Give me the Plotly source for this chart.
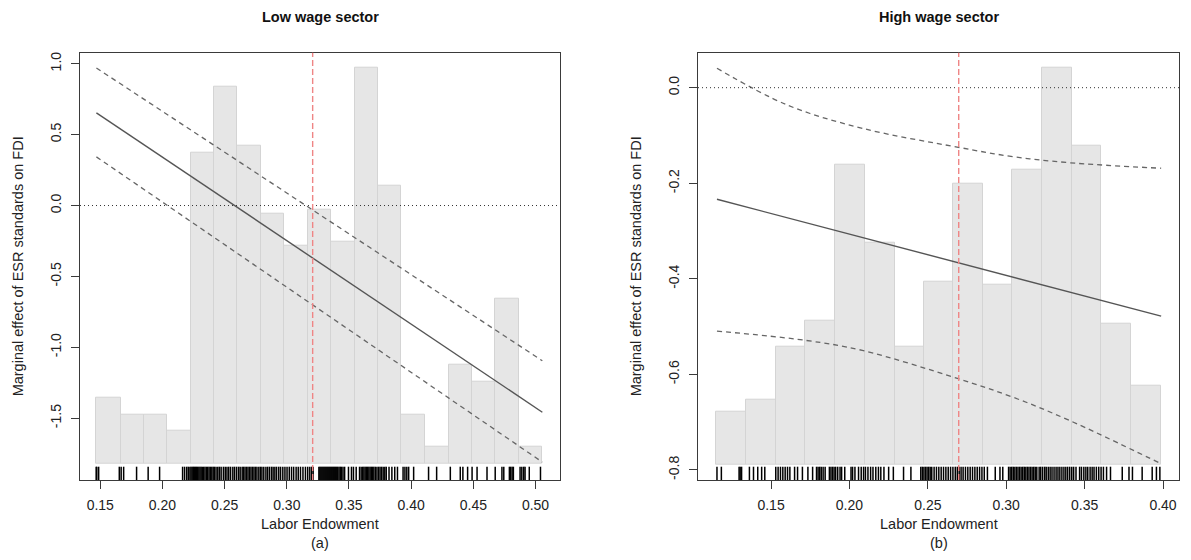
import numpy as np
import plotly.graph_objects as go

# ---------------- data ----------------
# Low wage sector (a)
low_bin_edges = [0.1469, 0.1663, 0.1851, 0.2039, 0.2226, 0.2414, 0.2602, 0.2793, 0.2981, 0.3168,
                 0.3356, 0.3547, 0.3735, 0.3922, 0.4110, 0.4301, 0.4489, 0.4677, 0.4864, 0.5055]
low_bar_top = [-1.357, -1.472, -1.472, -1.59, 0.376, 0.835, 0.419, -0.059, -0.283, -0.026,
               -0.257, 0.97, 0.143, -1.472, -1.70, -1.126, -1.24, -0.66, -1.70]
low_bar_base = -1.823
low_line_x = [0.1469, 0.5055]
low_est = [0.654, -1.458]
low_upper = [0.97, -1.095]
low_lower = [0.343, -1.81]
low_ref_x = 0.3208
low_rug = [0.1467, 0.1472, 0.1487, 0.1653, 0.1668, 0.1688, 0.1792, 0.1885, 0.1977,
           0.2162, 0.2178, 0.2195, 0.2208, 0.2221, 0.2230, 0.2239, 0.2248, 0.2257, 0.2266, 0.2275,
           0.2284, 0.2293, 0.2302, 0.2311, 0.2320, 0.2331, 0.2342, 0.2353, 0.2364, 0.2375, 0.2386,
           0.2397, 0.2408, 0.2418, 0.2431, 0.2445, 0.2458, 0.2472, 0.2490, 0.2505, 0.2519, 0.2533,
           0.2548, 0.2566, 0.2580, 0.2596, 0.2612, 0.2625, 0.2641, 0.2652, 0.2664, 0.2676, 0.2688,
           0.2700, 0.2712, 0.2724, 0.2736, 0.2748, 0.2760, 0.2775, 0.2788, 0.2800, 0.2815, 0.2832,
           0.2846, 0.2861, 0.2877, 0.2890, 0.2904,
           0.2918, 0.2935, 0.2950, 0.2968, 0.2985, 0.3002, 0.3020, 0.3038, 0.3055, 0.3075, 0.3092,
           0.3110, 0.3130, 0.3150, 0.3168, 0.3185, 0.3200, 0.3212,
           0.3258, 0.3266, 0.3274, 0.3282, 0.3290, 0.3298, 0.3306, 0.3314, 0.3322, 0.3330, 0.3338,
           0.3346, 0.3354, 0.3362, 0.3370, 0.3378, 0.3386, 0.3394, 0.3402, 0.3410, 0.3420, 0.3430,
           0.3440, 0.3452, 0.3465,
           0.3496, 0.3520, 0.3536, 0.3558,
           0.3585, 0.3598, 0.3610, 0.3620, 0.3630, 0.3640, 0.3650, 0.3660, 0.3670, 0.3680, 0.3690,
           0.3700, 0.3712, 0.3725, 0.3738, 0.3750, 0.3762, 0.3775, 0.3788, 0.3800,
           0.3822, 0.3845, 0.3868, 0.3890, 0.3935, 0.3950, 0.3965, 0.3980, 0.4020,
           0.4140, 0.4205, 0.4315, 0.4395, 0.4416, 0.4454, 0.4490, 0.4530, 0.4610, 0.4676, 0.4730,
           0.4745, 0.4790, 0.4800, 0.4812, 0.4822, 0.4876, 0.4890, 0.4905, 0.4916, 0.4950, 0.5040]

# High wage sector (b)
high_bin_edges = [0.1148, 0.1339, 0.1529, 0.1718, 0.1907, 0.2099, 0.2289, 0.2476, 0.2663, 0.2852,
                  0.3039, 0.3228, 0.3418, 0.3607, 0.3796, 0.3988]
high_bar_top = [-0.679, -0.652, -0.543, -0.488, -0.161, -0.325, -0.543, -0.407, -0.200, -0.413,
                -0.171, 0.041, -0.122, -0.493, -0.624]
high_bar_base = -0.788
high_line_x = [0.1155, 0.3988]
high_est = [-0.2335, -0.478]
high_upper_x = [0.1155, 0.1603, 0.2082, 0.2694, 0.3041, 0.3401, 0.3988]
high_upper = [0.0406, -0.0362, -0.085, -0.1247, -0.1443, -0.157, -0.1686]
high_lower_x = [0.1155, 0.1723, 0.2082, 0.2694, 0.3041, 0.3401, 0.3988]
high_lower = [-0.5094, -0.5289, -0.5498, -0.609, -0.6475, -0.696, -0.787]
high_ref_x = 0.2697
high_rug = [0.1155, 0.1183, 0.1296, 0.1303, 0.1312, 0.1362, 0.1388, 0.1415, 0.1440, 0.1460,
            0.1530, 0.1545, 0.1560, 0.1575, 0.1590, 0.1605, 0.1620, 0.1650, 0.1669, 0.1700, 0.1735, 0.1765,
            0.1790, 0.1800, 0.1810, 0.1820, 0.1832, 0.1845, 0.1872, 0.1882, 0.1892, 0.1902, 0.1912,
            0.1925, 0.1940, 0.1950, 0.1970,
            0.2010, 0.2020, 0.2035, 0.2058, 0.2075, 0.2090, 0.2102, 0.2118, 0.2135, 0.2150, 0.2168,
            0.2185, 0.2200, 0.2220, 0.2250, 0.2280,
            0.2345, 0.2392, 0.2455, 0.2465, 0.2475, 0.2485, 0.2495, 0.2505, 0.2515, 0.2525, 0.2540,
            0.2555, 0.2570, 0.2585, 0.2600, 0.2615, 0.2630, 0.2645, 0.2660, 0.2675, 0.2688, 0.2700,
            0.2712, 0.2725, 0.2740, 0.2755, 0.2770, 0.2785, 0.2800, 0.2815, 0.2830, 0.2845, 0.2860, 0.2880,
            0.2930, 0.2960, 0.2978,
            0.3015, 0.3025, 0.3035, 0.3045, 0.3055, 0.3065, 0.3075, 0.3085, 0.3095, 0.3105, 0.3115,
            0.3125, 0.3135, 0.3145, 0.3155, 0.3165, 0.3175, 0.3185, 0.3195,
            0.3210, 0.3220, 0.3232, 0.3245, 0.3255, 0.3268, 0.3280, 0.3292, 0.3305, 0.3318, 0.3330,
            0.3342, 0.3355, 0.3368, 0.3380, 0.3392, 0.3405, 0.3418, 0.3430, 0.3445,
            0.3468, 0.3480, 0.3495, 0.3508, 0.3520, 0.3535, 0.3548, 0.3560, 0.3575, 0.3590, 0.3605,
            0.3620, 0.3640,
            0.3665, 0.3740, 0.3783, 0.3805, 0.3867, 0.3931, 0.3958, 0.3980]

low_xticks = [0.15, 0.20, 0.25, 0.30, 0.35, 0.40, 0.45, 0.50]
low_yticks = [-1.5, -1.0, -0.5, 0.0, 0.5, 1.0]
high_xticks = [0.15, 0.20, 0.25, 0.30, 0.35, 0.40]
high_yticks = [-0.8, -0.6, -0.4, -0.2, 0.0]

titles = ["Low wage sector", "High wage sector"]
xlab = "Labor Endowment"
ylab = "Marginal effect of ESR standards on FDI"
sublabels = ["(a)", "(b)"]

# ---------------- layout constants ----------------
W, H = 1191, 560
FONT = "Liberation Sans, Arial, sans-serif"
BAR_FILL = "#e6e6e6"
BAR_LINE = "#d4d4d4"
LINE_C = "#555555"
CI_C = "#666666"
RED_C = "#ef8585"
BOX_C = "#3a3a3a"
TXT_C = "#222222"
TICK_FS = 14
LAB_FS = 14.5
TITLE_FS = 14.5

panels = [
    dict(edges=low_bin_edges, top=low_bar_top, base=low_bar_base, lx=low_line_x, est=low_est,
         ux=low_line_x, up=low_upper, lox=low_line_x, lo=low_lower, ref=low_ref_x, rug=low_rug,
         xr=[0.1337, 0.5197], yr=[-1.936, 1.078], xt=low_xticks, yt=low_yticks,
         xfmt="{:.2f}", yfmt="{:.1f}", dom=[80, 560], spline=False),
    dict(edges=high_bin_edges, top=high_bar_top, base=high_bar_base, lx=high_line_x, est=high_est,
         ux=high_upper_x, up=high_upper, lox=high_lower_x, lo=high_lower, ref=high_ref_x, rug=high_rug,
         xr=[0.1034, 0.4102], yr=[-0.821, 0.0732], xt=high_xticks, yt=high_yticks,
         xfmt="{:.2f}", yfmt="{:.1f}", dom=[698, 1179], spline=True),
]

box_top, box_bot = 52.7, 480.0
ydom = [1 - box_bot / H, 1 - box_top / H]
rug_top_px = 466.7

fig = go.Figure()
annotations = []
shapes = []

for i, p in enumerate(panels):
    sfx = "" if i == 0 else str(i + 1)
    xa, ya = "x" + sfx, "y" + sfx
    edges = np.array(p["edges"])
    centers = (edges[:-1] + edges[1:]) / 2
    widths = edges[1:] - edges[:-1]
    tops = np.array(p["top"])

    fig.add_trace(go.Bar(x=centers, y=tops - p["base"], base=p["base"], width=widths,
                         marker=dict(color=BAR_FILL, line=dict(color=BAR_LINE, width=1)),
                         xaxis=xa, yaxis=ya, showlegend=False, hoverinfo="skip"))

    # rug
    ylo, yhi = p["yr"]
    px_per_unit = (box_bot - box_top) / (yhi - ylo)
    rug_top = ylo + (box_bot - rug_top_px) / px_per_unit
    rx, ry = [], []
    for v in p["rug"]:
        rx += [v, v, None]
        ry += [ylo, rug_top, None]
    fig.add_trace(go.Scatter(x=rx, y=ry, mode="lines", line=dict(color="#000000", width=1.5),
                             xaxis=xa, yaxis=ya, showlegend=False, hoverinfo="skip"))

    # zero dotted line
    shapes.append(dict(type="line", xref=xa + " domain", yref=ya, x0=0, x1=1, y0=0, y1=0,
                       line=dict(color="#333333", width=1, dash="1px,3px")))
    # reference vertical line
    shapes.append(dict(type="line", xref=xa, yref=ya + " domain", x0=p["ref"], x1=p["ref"], y0=0, y1=1,
                       line=dict(color=RED_C, width=1.4, dash="6px,3px"), layer="above"))

    shape_kind = "spline" if p["spline"] else "linear"
    fig.add_trace(go.Scatter(x=p["ux"], y=p["up"], mode="lines",
                             line=dict(color=CI_C, width=1.3, dash="5px,4px", shape=shape_kind),
                             xaxis=xa, yaxis=ya, showlegend=False, hoverinfo="skip"))
    fig.add_trace(go.Scatter(x=p["lox"], y=p["lo"], mode="lines",
                             line=dict(color=CI_C, width=1.3, dash="5px,4px", shape=shape_kind),
                             xaxis=xa, yaxis=ya, showlegend=False, hoverinfo="skip"))
    fig.add_trace(go.Scatter(x=p["lx"], y=p["est"], mode="lines",
                             line=dict(color=LINE_C, width=1.4),
                             xaxis=xa, yaxis=ya, showlegend=False, hoverinfo="skip"))

    xdom = [p["dom"][0] / W, p["dom"][1] / W]
    axis_common = dict(showline=True, mirror=True, linecolor=BOX_C, linewidth=1,
                       ticks="outside", ticklen=8, tickwidth=1, tickcolor=BOX_C,
                       showgrid=False, zeroline=False,
                       tickfont=dict(family=FONT, size=TICK_FS, color=TXT_C))
    fig.layout["xaxis" + sfx] = dict(domain=xdom, range=p["xr"], tickmode="array",
                                     tickvals=p["xt"], ticktext=[p["xfmt"].format(t) for t in p["xt"]],
                                     anchor=ya, ticklabelstandoff=4, **axis_common)
    fig.layout["yaxis" + sfx] = dict(domain=ydom, range=p["yr"], tickmode="array",
                                     tickvals=p["yt"], ticktext=[p["yfmt"].format(t) for t in p["yt"]],
                                     anchor=xa, tickangle=-90, ticklabelstandoff=4, **axis_common)

    cx = (xdom[0] + xdom[1]) / 2
    annotations.append(dict(text="<b>" + titles[i] + "</b>", x=cx, y=1 - 17 / H, xref="paper", yref="paper",
                            showarrow=False, xanchor="center", yanchor="middle",
                            font=dict(family=FONT, size=TITLE_FS, color="#111111")))
    annotations.append(dict(text=xlab, x=cx, y=1 - 524 / H, xref="paper", yref="paper",
                            showarrow=False, xanchor="center", yanchor="middle",
                            font=dict(family=FONT, size=LAB_FS, color=TXT_C)))
    annotations.append(dict(text=sublabels[i], x=cx, y=1 - 543 / H, xref="paper", yref="paper",
                            showarrow=False, xanchor="center", yanchor="middle",
                            font=dict(family=FONT, size=LAB_FS, color=TXT_C)))
    ylab_x = (p["dom"][0] - 62) / W
    annotations.append(dict(text=ylab, x=ylab_x, y=(ydom[0] + ydom[1]) / 2, xref="paper", yref="paper",
                            showarrow=False, xanchor="center", yanchor="middle", textangle=-90,
                            font=dict(family=FONT, size=LAB_FS, color=TXT_C)))

fig.update_layout(width=W, height=H, margin=dict(l=0, r=0, t=0, b=0),
                  paper_bgcolor="white", plot_bgcolor="white", bargap=0,
                  annotations=annotations, shapes=shapes, showlegend=False)

fig.write_html("out.html", config={"displayModeBar": False},
               post_script="document.body.style.margin='0';document.body.style.padding='0';"
                           "document.body.style.overflow='hidden';")
